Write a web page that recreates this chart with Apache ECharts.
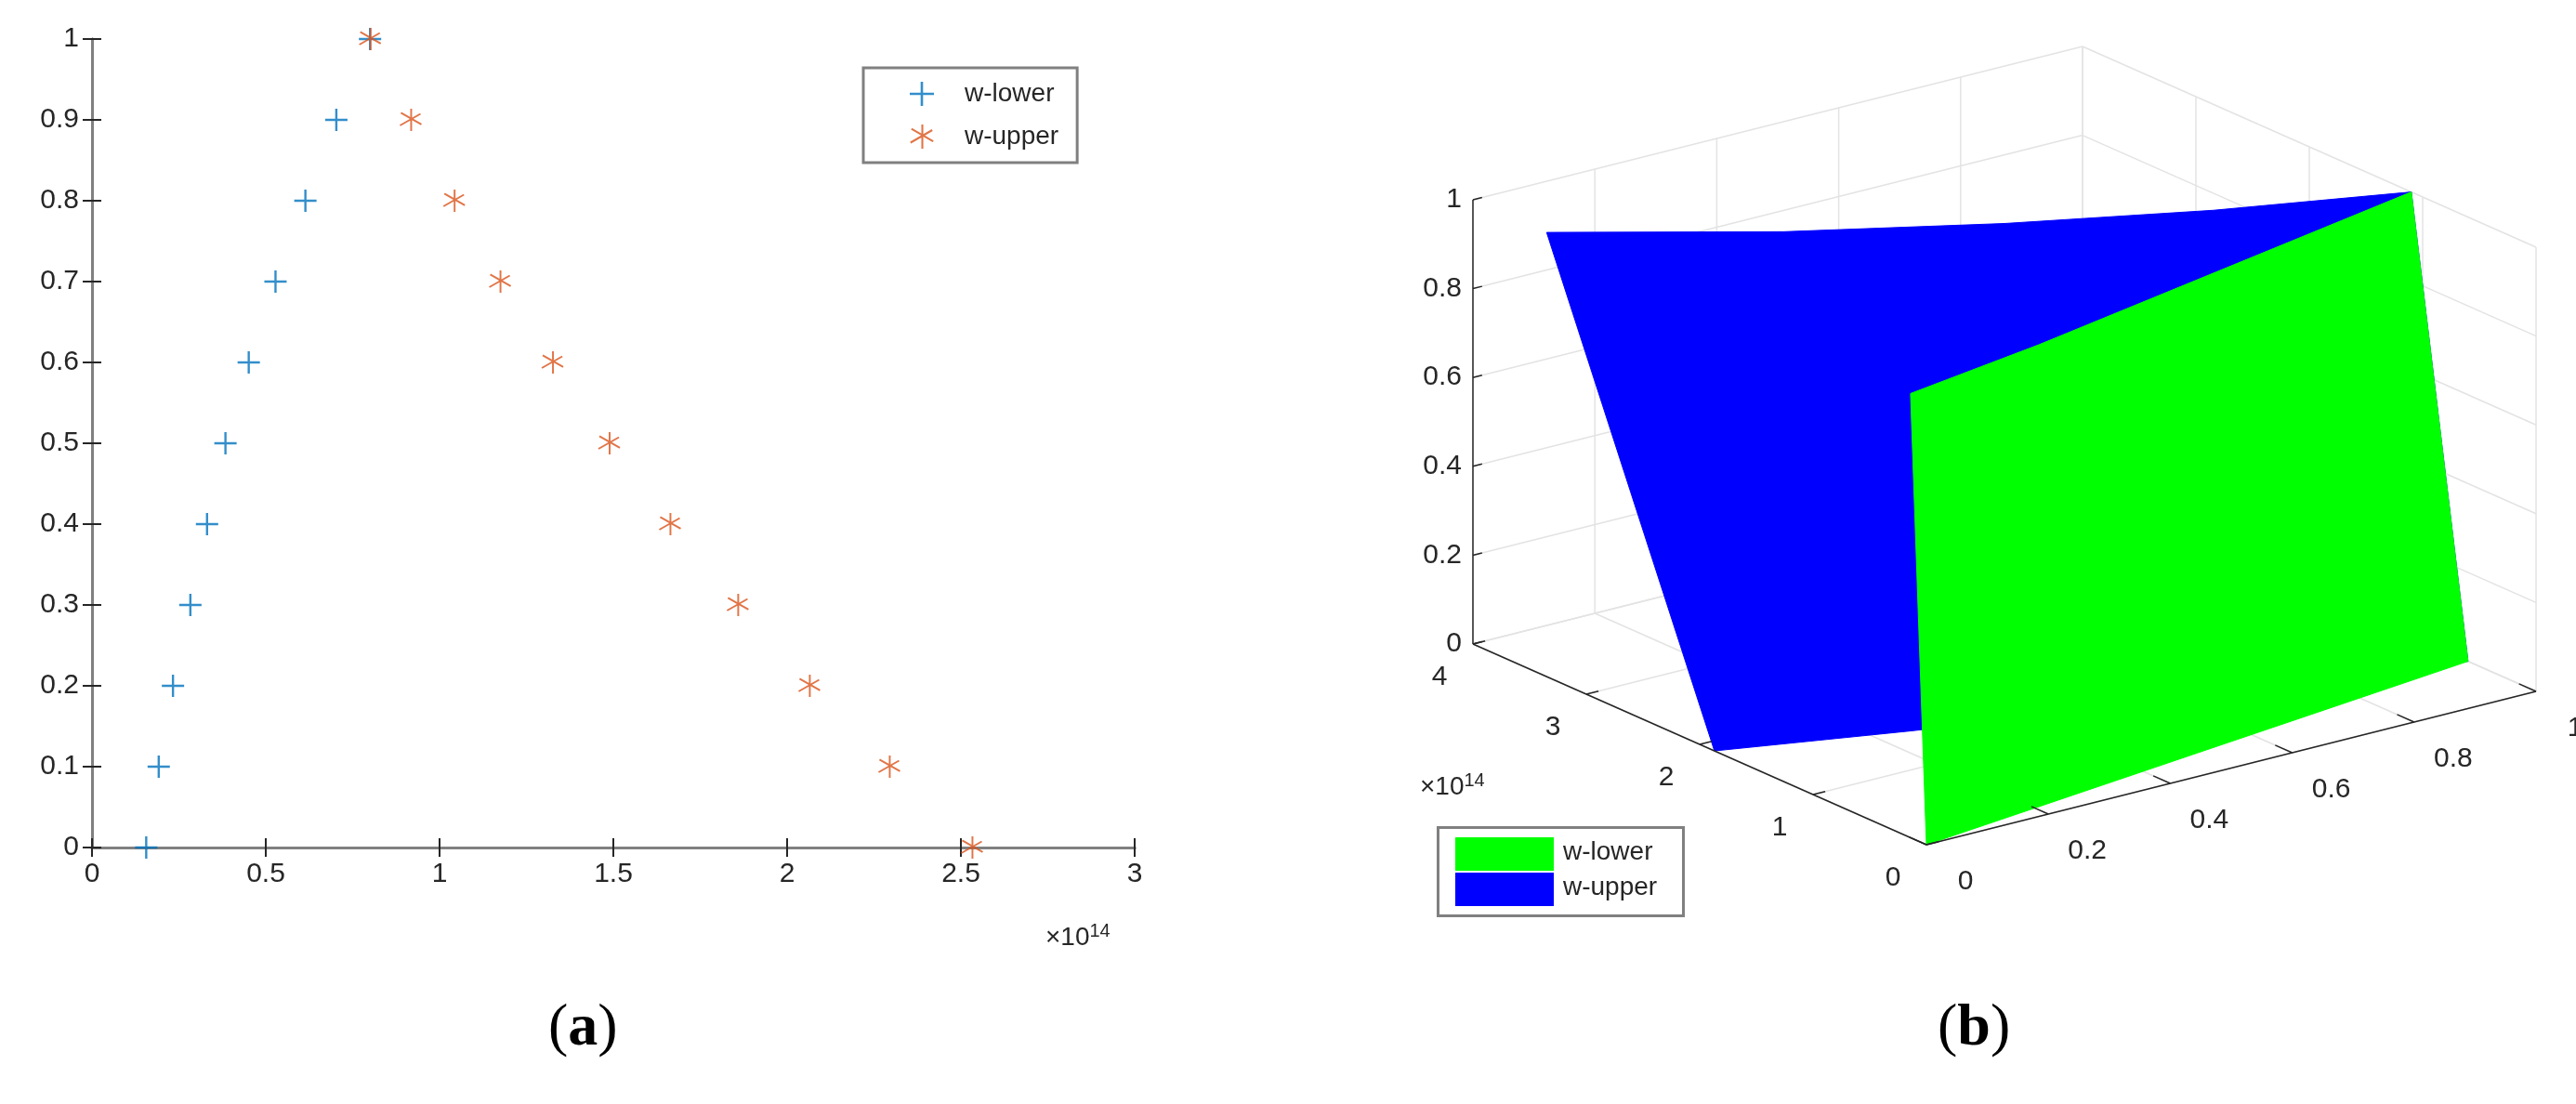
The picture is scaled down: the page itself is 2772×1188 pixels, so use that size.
<!DOCTYPE html>
<html>
<head>
<meta charset="utf-8">
<script src="https://cdn.jsdelivr.net/npm/echarts@6/dist/echarts.min.js"></script>
<style>html,body{margin:0;padding:0;background:#fff}#main{width:2772px;height:1188px}</style>
</head>
<body>
<div id="main"></div>
<script>
"use strict"

// panel (a): membership level vs value (x10^14)
var levels = [0, 0.1, 0.2, 0.3, 0.4, 0.5, 0.6, 0.7, 0.8, 0.9, 1];
var lowerX = [0.156, 0.192, 0.233, 0.283, 0.331, 0.384, 0.451, 0.528, 0.614, 0.703, 0.80];
var upperX = [2.532, 2.294, 2.064, 1.858, 1.663, 1.488, 1.325, 1.174, 1.042, 0.917, 0.80];
var xTicks2d = [0, 0.5, 1, 1.5, 2, 2.5, 3];
var yTicks2d = [0, 0.1, 0.2, 0.3, 0.4, 0.5, 0.6, 0.7, 0.8, 0.9, 1];

// panel (b): surfaces, sampled along x = 0..1
var surfX = [0, 0.25, 0.5, 0.75, 1];
var blueTopY = [3.35, 2.6, 2.0, 1.5, 1.1];      // z = 1
var blueBottomY = [1.87, 1.5, 1.15, 0.85, 0.6]; // z = 0
var greenTopY = [0.14, 0.35, 0.6, 0.85, 1.1];   // z = 1
var greenBottomY = [0, 0.15, 0.3, 0.45, 0.6];   // z = 0
var xTicks3d = [0, 0.2, 0.4, 0.6, 0.8, 1];
var yTicks3d = [0, 1, 2, 3, 4];
var zTicks3d = [0, 0.2, 0.4, 0.6, 0.8, 1];

var FONT = 'Liberation Sans';
var TXT = '#262626';

// simple fixed view projection for the 3D box
var O = [2073, 909], EX = [656, -165], EY = [-122, -54], EZ = [0, -478];
function proj(x, y, z) {
    return [O[0] + x * EX[0] + y * EY[0] + z * EZ[0], O[1] + x * EX[1] + y * EY[1] + z * EZ[1]];
}

var plusPath = 'path://M9,0h2v9h9v2h-9v9h-2v-9h-9v-2h9z';
var starPath = 'path://M9.2,0h1.6v20h-1.6z M0.6,4.3l0.8,-1.4l18,10.4l-0.8,1.4z M0.6,15.7l-0.8,-1.4l18,-10.4l0.8,1.4z';

function surfacePolygon(api, topY, botY) {
    var pts = [];
    for (var i = 0; i < surfX.length; i++) pts.push(api.coord(proj(surfX[i], botY[i], 0)));
    for (var j = surfX.length - 1; j >= 0; j--) pts.push(api.coord(proj(surfX[j], topY[j], 1)));
    return pts;
}

function line3(api, a, b, color, w) {
    var p = api.coord(proj(a[0], a[1], a[2])), q = api.coord(proj(b[0], b[1], b[2]));
    return {type: 'line', shape: {x1: p[0], y1: p[1], x2: q[0], y2: q[1]}, style: {stroke: color, lineWidth: w}};
}

function boxGrid(params, api) {
    var els = [], g = '#e3e3e3';
    // floor z = 0
    xTicks3d.forEach(function (x) { els.push(line3(api, [x, 0, 0], [x, 4, 0], g, 1.5)); });
    yTicks3d.forEach(function (y) { els.push(line3(api, [0, y, 0], [1, y, 0], g, 1.5)); });
    // back wall y = 4
    xTicks3d.forEach(function (x) { els.push(line3(api, [x, 4, 0], [x, 4, 1], g, 1.5)); });
    zTicks3d.forEach(function (z) { els.push(line3(api, [0, 4, z], [1, 4, z], g, 1.5)); });
    // back wall x = 1
    yTicks3d.forEach(function (y) { els.push(line3(api, [1, y, 0], [1, y, 1], g, 1.5)); });
    zTicks3d.forEach(function (z) { els.push(line3(api, [1, 0, z], [1, 4, z], g, 1.5)); });
    return {type: 'group', children: els};
}

function surfaces(params, api) {
    return {type: 'group', children: [
        {type: 'polygon', shape: {points: surfacePolygon(api, blueTopY, blueBottomY)}, style: {fill: '#0000ff', stroke: '#0000ff', lineWidth: 1}},
        {type: 'polygon', shape: {points: surfacePolygon(api, greenTopY, greenBottomY)}, style: {fill: '#00ff00', stroke: '#00ff00', lineWidth: 1}}
    ]};
}

function axes3d(params, api) {
    var els = [], k = '#262626';
    els.push(line3(api, [0, 0, 0], [1, 0, 0], k, 1.5));
    els.push(line3(api, [0, 0, 0], [0, 4, 0], k, 1.5));
    els.push(line3(api, [0, 4, 0], [0, 4, 1], k, 1.5));
    function label(p, dx, dy, t, align) {
        var c = api.coord(p);
        els.push({type: 'text', x: c[0] + dx, y: c[1] + dy, style: {text: t, fill: TXT, font: '30px ' + FONT, textAlign: align, textVerticalAlign: 'middle'}});
    }
    xTicks3d.forEach(function (x) {
        els.push(line3(api, [x, 0, 0], [x, 0.15, 0], k, 1.5));
        label(proj(x, 0, 0), 42, 40, String(x), 'center');
    });
    yTicks3d.forEach(function (y) {
        els.push(line3(api, [0, y, 0], [0.02, y, 0], k, 1.5));
        label(proj(0, y, 0), -36, 36, String(y), 'center');
    });
    zTicks3d.forEach(function (z) {
        els.push(line3(api, [0, 4, z], [0.015, 4, z], k, 1.5));
        label(proj(0, 4, z), -12, 0, String(z), 'right');
    });
    return {type: 'group', children: els};
}

var chart = echarts.init(document.getElementById('main'));
var axisLabel = {color: TXT, fontSize: 30, fontFamily: FONT, margin: 14};
var boxLine = {show: true, lineStyle: {color: '#808080', width: 3}};

var option = {
    backgroundColor: '#fff',
    animation: false,
    grid: [
        {left: 99, top: 42, width: 1122, height: 870},
        {left: 0, top: 0, width: 2772, height: 1188}
    ],
    xAxis: [
        {gridIndex: 0, type: 'value', min: 0, max: 3, interval: 0.5, axisLine: boxLine,
         axisTick: {inside: true, length: 10, lineStyle: {color: TXT, width: 2}}, splitLine: {show: false},
         axisLabel: Object.assign({}, axisLabel, {formatter: function (v) { return String(v); }})},
        {gridIndex: 0, type: 'value', position: 'top', min: 0, max: 3, interval: 0.5, axisLine: boxLine,
         axisTick: {inside: true, length: 10, lineStyle: {color: TXT, width: 2}}, axisLabel: {show: false}, splitLine: {show: false}},
        {gridIndex: 1, type: 'value', min: 0, max: 2772, show: false}
    ],
    yAxis: [
        {gridIndex: 0, type: 'value', min: 0, max: 1, interval: 0.1, axisLine: boxLine,
         axisTick: {inside: true, length: 10, lineStyle: {color: TXT, width: 2}}, splitLine: {show: false},
         axisLabel: Object.assign({}, axisLabel, {formatter: function (v) { return String(+v.toFixed(1)); }})},
        {gridIndex: 0, type: 'value', position: 'right', min: 0, max: 1, interval: 0.1, axisLine: boxLine,
         axisTick: {inside: true, length: 10, lineStyle: {color: TXT, width: 2}}, axisLabel: {show: false}, splitLine: {show: false}},
        {gridIndex: 1, type: 'value', min: 0, max: 1188, inverse: true, show: false}
    ],
    legend: {
        data: ['w-lower', 'w-upper'],
        orient: 'vertical', left: 929, top: 73, width: 262,
        padding: [14, 20, 14, 50], itemGap: 18, itemWidth: 26, itemHeight: 26,
        backgroundColor: '#fff', borderColor: '#808080', borderWidth: 3,
        textStyle: {color: TXT, fontSize: 28, fontFamily: FONT, padding: [0, 0, 0, 28]}
    },
    series: [
        {name: 'w-lower', type: 'scatter', xAxisIndex: 0, yAxisIndex: 0, symbol: plusPath, symbolSize: 24,
         itemStyle: {color: '#0072BD'}, data: lowerX.map(function (x, i) { return [x, levels[i]]; })},
        {name: 'w-upper', type: 'scatter', xAxisIndex: 0, yAxisIndex: 0, symbol: starPath, symbolSize: 24,
         itemStyle: {color: '#D95319'}, data: upperX.map(function (x, i) { return [x, levels[i]]; })},
        {type: 'custom', xAxisIndex: 2, yAxisIndex: 2, renderItem: boxGrid, data: [0], silent: true, z: 1},
        {type: 'custom', xAxisIndex: 2, yAxisIndex: 2, renderItem: surfaces, data: [0], silent: true, z: 2},
        {type: 'custom', xAxisIndex: 2, yAxisIndex: 2, renderItem: axes3d, data: [0], silent: true, z: 3}
    ],
    graphic: [
        {type: 'text', left: 1125, top: 992, style: {text: '×10{s|14}', fill: TXT, font: '28px ' + FONT,
         rich: {s: {fontSize: 20, verticalAlign: 'top', padding: [0, 0, 14, 0], fill: TXT}}}},
        {type: 'text', left: 1528, top: 830, style: {text: '×10{s|14}', fill: TXT, font: '28px ' + FONT,
         rich: {s: {fontSize: 20, verticalAlign: 'top', padding: [0, 0, 14, 0], fill: TXT}}}},
        {type: 'rect', left: 1546, top: 889, shape: {width: 264, height: 95}, style: {fill: '#fff', stroke: '#808080', lineWidth: 3}},
        {type: 'rect', left: 1566, top: 901, shape: {width: 106, height: 36}, style: {fill: '#00ff00'}},
        {type: 'rect', left: 1566, top: 939, shape: {width: 106, height: 36}, style: {fill: '#0000ff'}},
        {type: 'text', left: 1682, top: 903, style: {text: 'w-lower', fill: TXT, font: '28px ' + FONT}},
        {type: 'text', left: 1682, top: 941, style: {text: 'w-upper', fill: TXT, font: '28px ' + FONT}},
        {type: 'text', left: 590, top: 1075, style: {text: '({b|a})', fill: '#000', font: '64px "Liberation Serif"',
         rich: {b: {fontWeight: 'bold', fontSize: 64, fontFamily: 'Liberation Serif', fill: '#000'}}}},
        {type: 'text', left: 2085, top: 1075, style: {text: '({b|b})', fill: '#000', font: '64px "Liberation Serif"',
         rich: {b: {fontWeight: 'bold', fontSize: 64, fontFamily: 'Liberation Serif', fill: '#000'}}}}
    ]
};
chart.setOption(option);
</script>
</body>
</html>
